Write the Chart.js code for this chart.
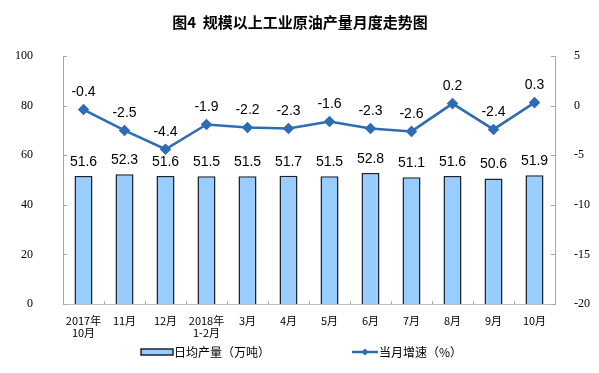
<!DOCTYPE html>
<html>
<head>
<meta charset="utf-8">
<script src="https://cdn.jsdelivr.net/npm/chart.js@4"></script>
<style>
  html, body { margin: 0; padding: 0; background: #fff; }
  #wrap { width: 599px; height: 373px; }
</style>
</head>
<body>
<div id="wrap"><canvas id="oilChart" width="599" height="373"></canvas></div>
<script>
const months = [["2017年", "10月"], "11月", "12月", ["2018年", "1-2月"], "3月", "4月", "5月", "6月", "7月", "8月", "9月", "10月"];
const dailyOutput = [51.6, 52.3, 51.6, 51.5, 51.5, 51.7, 51.5, 52.8, 51.1, 51.6, 50.6, 51.9];
const monthGrowth = [-0.4, -2.5, -4.4, -1.9, -2.2, -2.3, -1.6, -2.3, -2.6, 0.2, -2.4, 0.3];
const outputLabel = "日均产量（万吨）";
const growthLabel = "当月增速（%）";
const chartTitle = "图4  规模以上工业原油产量月度走势图";

const lineBlue = "#2e6cb3";
const barFill = "#99ccff";
const barEdge = "#1c2430";
const cjk = "'Noto Sans CJK SC', sans-serif";

const extras = {
  id: "extras",
  afterDraw(chart) {
    const c = chart.ctx;
    const area = chart.chartArea;
    const x = chart.scales.x, y = chart.scales.y, y1 = chart.scales.y1;

    // title
    c.save();
    c.fillStyle = "#000";
    c.font = "bold 15px " + cjk;
    c.textAlign = "center";
    c.textBaseline = "middle";
    c.fillText(chartTitle, 300, 22);

    // inward tick marks
    c.strokeStyle = "#a6a6a6";
    c.lineWidth = 1;
    y.ticks.forEach(function (t) {
      const py = Math.round(y.getPixelForValue(t.value)) + 0.5;
      c.beginPath(); c.moveTo(area.left, py); c.lineTo(area.left + 4, py); c.stroke();
    });
    y1.ticks.forEach(function (t) {
      const py = Math.round(y1.getPixelForValue(t.value)) + 0.5;
      c.beginPath(); c.moveTo(area.right - 4, py); c.lineTo(area.right, py); c.stroke();
    });
    const step = (area.right - area.left) / months.length;
    for (let i = 1; i < months.length; i++) {
      const px = Math.round(area.left + i * step) + 0.5;
      c.beginPath(); c.moveTo(px, area.bottom); c.lineTo(px, area.bottom - 3); c.stroke();
    }

    // data labels
    c.fillStyle = "#000";
    c.font = "14px 'Liberation Sans', Arial, sans-serif";
    c.textAlign = "center";
    c.textBaseline = "middle";
    chart.getDatasetMeta(0).data.forEach(function (bar, i) {
      c.fillText(dailyOutput[i].toFixed(1), bar.x, bar.y - 14);
    });
    chart.getDatasetMeta(1).data.forEach(function (pt, i) {
      c.fillText(monthGrowth[i].toFixed(1), pt.x, pt.y - 17);
    });

    // legend
    const ly = 352;
    c.fillStyle = barFill;
    c.strokeStyle = barEdge;
    c.lineWidth = 1.5;
    c.fillRect(141, ly - 3, 32, 6);
    c.strokeRect(141, ly - 3, 32, 6);
    c.fillStyle = "#000";
    c.font = "12px " + cjk;
    c.textAlign = "left";
    c.fillText(outputLabel, 174, ly);

    c.strokeStyle = lineBlue;
    c.lineWidth = 2.5;
    c.beginPath(); c.moveTo(352, ly); c.lineTo(378, ly); c.stroke();
    c.fillStyle = lineBlue;
    c.beginPath();
    c.moveTo(365, ly - 3.5); c.lineTo(368.5, ly); c.lineTo(365, ly + 3.5); c.lineTo(361.5, ly);
    c.closePath(); c.fill();
    c.fillStyle = "#000";
    c.fillText(growthLabel, 379, ly);
    c.restore();
  }
};

new Chart(document.getElementById("oilChart"), {
  data: {
    labels: months,
    datasets: [
      {
        type: "bar",
        label: outputLabel,
        data: dailyOutput,
        yAxisID: "y",
        backgroundColor: barFill,
        borderColor: barEdge,
        borderWidth: 1.5,
        barPercentage: 0.44,
        categoryPercentage: 1,
        order: 2
      },
      {
        type: "line",
        label: growthLabel,
        data: monthGrowth,
        yAxisID: "y1",
        borderColor: lineBlue,
        backgroundColor: lineBlue,
        borderWidth: 2.5,
        pointStyle: "rectRot",
        pointRadius: 4,
        pointHoverRadius: 4,
        tension: 0,
        order: 1
      }
    ]
  },
  options: {
    responsive: false,
    animation: false,
    layout: { padding: { top: 56, left: 0, right: 0, bottom: 0 } },
    plugins: {
      legend: { display: false },
      title: { display: false },
      tooltip: { enabled: false }
    },
    scales: {
      x: {
        grid: { display: false, offset: true },
        border: { color: "#bfbfbf" },
        ticks: {
          color: "#000",
          font: { family: cjk, size: 11, lineHeight: 1.15 },
          padding: 2,
          maxRotation: 0,
          autoSkip: false
        },
        afterFit(s) { s.height = 69; }
      },
      y: {
        position: "left",
        min: 0,
        max: 100,
        grid: { display: false },
        border: { color: "#a6a6a6" },
        ticks: {
          stepSize: 20,
          color: "#000",
          font: { family: "'Liberation Serif', serif", size: 12 },
          padding: 22
        },
        afterFit(s) { s.width = 63; }
      },
      y1: {
        position: "right",
        min: -20,
        max: 5,
        grid: { display: false },
        border: { color: "#a6a6a6" },
        ticks: {
          stepSize: 5,
          color: "#000",
          font: { family: "'Liberation Serif', serif", size: 12 },
          padding: 11
        },
        afterFit(s) { s.width = 44; }
      }
    }
  },
  plugins: [extras]
});
</script>
</body>
</html>
